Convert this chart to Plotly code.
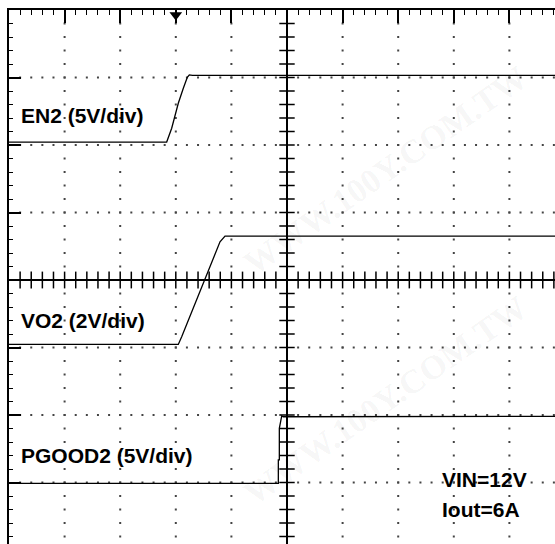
import numpy as np
import plotly.graph_objects as go

# Screen geometry: 10 horizontal x 8 vertical divisions; x in divisions, y in divisions from bottom
PX_PER_XDIV = 55.6
PX_PER_YDIV = 67.5
FIG_W, FIG_H = 555, 544
MARGIN_L, MARGIN_T = 9, 10

# Channel settings: volts per division and ground row (divisions from bottom)
EN2_VDIV, EN2_GND = 5.0, 6.0
VO2_VDIV, VO2_GND = 2.0, 3.0
PG2_VDIV, PG2_GND = 5.0, 1.0

# Waveforms: time in divisions, level in volts
en2_t = [0.0, 2.836, 2.926, 3.045, 3.135, 3.207, 3.243, 3.30, 9.9]
en2_v = [0.22, 0.22, 1.24, 3.09, 4.20, 5.01, 5.19, 5.15, 5.15]

vo2_t = [0.0, 3.045, 3.106, 3.376, 3.615, 3.795, 3.885, 3.95, 9.9]
vo2_v = [0.09, 0.09, 0.32, 1.41, 2.35, 3.13, 3.30, 3.30, 3.30]

pg2_t = [0.0, 4.844, 4.844, 4.862, 4.862, 4.887, 4.905, 4.933, 9.9]
pg2_v = [-0.06, -0.06, 1.67, 1.67, 4.01, 4.78, 4.93, 4.87, 4.90]

labels = [
    ("EN2 (5V/div)", 19, 115),
    ("VO2 (2V/div)", 19, 320),
    ("PGOOD2 (5V/div)", 19, 455),
    ("VIN=12V", 440, 479),
    ("Iout=6A", 440, 509),
]

x_max = (FIG_W - MARGIN_L) / PX_PER_XDIV
y_min = 8 - (FIG_H - MARGIN_T) / PX_PER_YDIV


def px_to_div(px, py):
    return (px - MARGIN_L) / PX_PER_XDIV, 8 - (py - MARGIN_T) / PX_PER_YDIV


fig = go.Figure()

# dotted graticule
sub = np.round(np.arange(0.2, 10.0, 0.2), 3)
dx, dy = [], []
for row in [1, 2, 3, 5, 6, 7]:
    dx += list(sub)
    dy += [row] * len(sub)
for col in [1, 2, 3, 4, 6, 7, 8, 9]:
    ys = sub[sub < 8]
    dx += [col] * len(ys)
    dy += list(ys)
fig.add_trace(go.Scatter(x=dx, y=dy, mode="markers", hoverinfo="skip",
                         marker=dict(symbol="square", size=2, color="#444", line_width=0)))

# centre cross lines with tick marks
fig.add_shape(type="line", x0=5, x1=5, y0=0, y1=8, line=dict(color="black", width=2))
fig.add_shape(type="line", x0=0, x1=10, y0=4, y1=4, line=dict(color="black", width=2))
fig.add_trace(go.Scatter(x=list(sub), y=[4] * len(sub), mode="markers", hoverinfo="skip",
                         marker=dict(symbol="line-ns", size=12, line=dict(color="black", width=1.5))))
ys = sub[sub < 8]
fig.add_trace(go.Scatter(x=[5] * len(ys), y=list(ys), mode="markers", hoverinfo="skip",
                         marker=dict(symbol="line-ew", size=11, line=dict(color="black", width=1.5))))

# traces
for t, v, vdiv, gnd in [(en2_t, en2_v, EN2_VDIV, EN2_GND),
                        (vo2_t, vo2_v, VO2_VDIV, VO2_GND),
                        (pg2_t, pg2_v, PG2_VDIV, PG2_GND)]:
    fig.add_trace(go.Scatter(x=t, y=[gnd + val / vdiv for val in v], mode="lines",
                             line=dict(color="black", width=1.3), hoverinfo="skip"))

# trigger marker
fig.add_trace(go.Scatter(x=[3], y=[8 - 5 / PX_PER_YDIV], mode="markers", cliponaxis=False,
                         hoverinfo="skip",
                         marker=dict(symbol="triangle-down", size=11, color="black")))

# watermark
for cx, cy in [(385, 170), (385, 400)]:
    wx, wy = px_to_div(cx, cy)
    fig.add_annotation(x=wx, y=wy, text="<b>WWW.100Y.COM.TW</b>", showarrow=False,
                       textangle=-35, font=dict(family="Liberation Serif", size=34,
                                                color="rgba(0,0,0,0.05)"))

for text, px, py in labels:
    ax, ay = px_to_div(px, py)
    fig.add_annotation(x=ax, y=ay, text="<b>%s</b>" % text, showarrow=False,
                       xanchor="left", yanchor="middle",
                       font=dict(family="Liberation Sans", size=21, color="black"))

fig.update_layout(
    width=FIG_W, height=FIG_H,
    margin=dict(l=MARGIN_L, r=0, t=MARGIN_T, b=0),
    paper_bgcolor="white", plot_bgcolor="white",
    showlegend=False,
    xaxis=dict(range=[0, x_max], side="top", showgrid=False, zeroline=False,
               showline=True, linecolor="black", linewidth=2,
               ticks="inside", ticklen=13, tickwidth=1.5, tickcolor="black",
               tick0=0, dtick=1, showticklabels=False,
               minor=dict(ticks="inside", ticklen=5, tickwidth=1.2, tickcolor="black",
                          dtick=0.2, showgrid=False)),
    yaxis=dict(range=[y_min, 8], showgrid=False, zeroline=False,
               showline=True, linecolor="black", linewidth=2,
               ticks="inside", ticklen=12, tickwidth=1.5, tickcolor="black",
               tick0=0, dtick=1, showticklabels=False,
               minor=dict(ticks="inside", ticklen=4, tickwidth=1.2, tickcolor="black",
                          dtick=0.2, showgrid=False)),
)

fig.write_html("out.html")
